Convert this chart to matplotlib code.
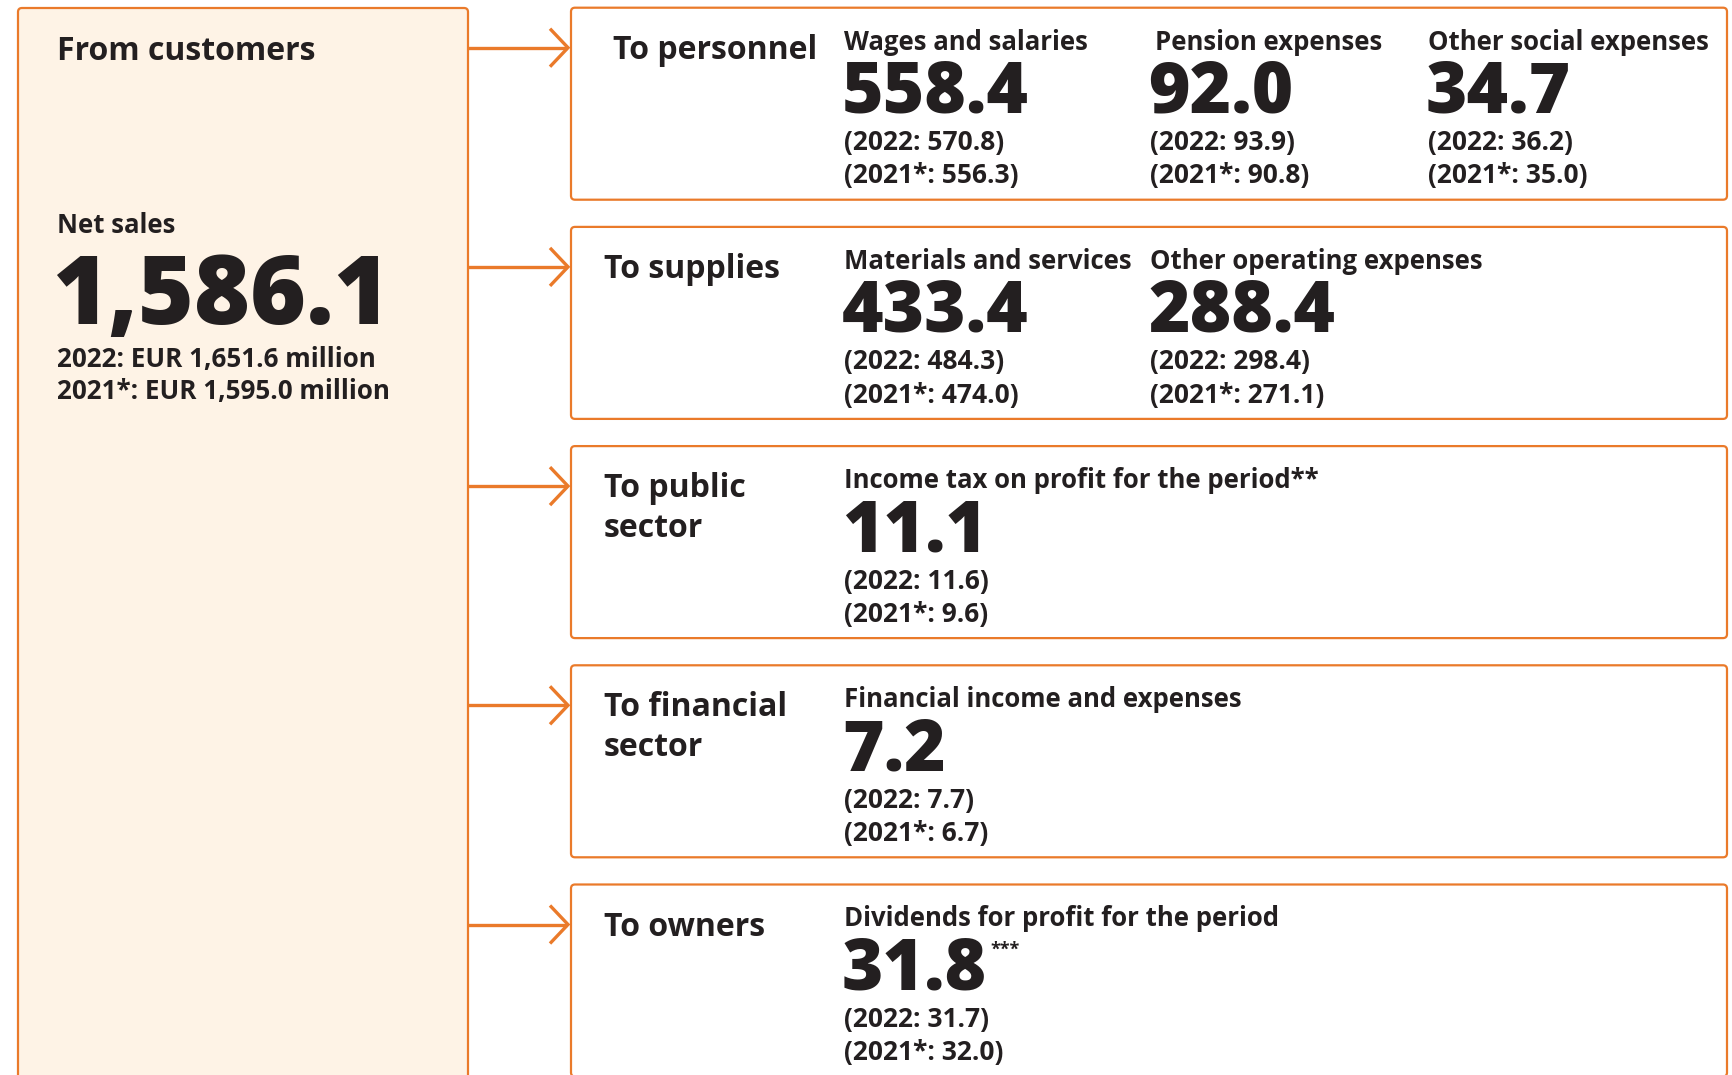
import matplotlib
matplotlib.use("Agg")
import matplotlib.pyplot as plt
from matplotlib.patches import FancyBboxPatch

# ---------------- data ----------------
source_title = "From customers"
net_sales_label = "Net sales"
net_sales = 1586.1
net_sales_2022 = 1651.6
net_sales_2021 = 1595.0

groups = ["To personnel", "To supplies", "To public\nsector", "To financial\nsector", "To owners"]
item_labels = [
    ["Wages and salaries", "Pension expenses", "Other social expenses"],
    ["Materials and services", "Other operating expenses"],
    ["Income tax on profit for the period**"],
    ["Financial income and expenses"],
    ["Dividends for profit for the period"],
]
values_2023 = [[558.4, 92.0, 34.7], [433.4, 288.4], [11.1], [7.2], [31.8]]
values_2022 = [[570.8, 93.9, 36.2], [484.3, 298.4], [11.6], [7.7], [31.7]]
values_2021 = [[556.3, 90.8, 35.0], [474.0, 271.1], [9.6], [6.7], [32.0]]
value_notes = [["", "", ""], ["", ""], [""], [""], ["***"]]

# ---------------- style ----------------
ORANGE = "#EA7A2A"
CREAM = "#FEF3E6"
DARK = "#231F20"
FONT = "Open Sans"

W, H = 1732, 1075
fig = plt.figure(figsize=(W / 100, H / 100), dpi=100)
ax = fig.add_axes([0, 0, 1, 1])
ax.set_xlim(0, W)
ax.set_ylim(H, 0)
ax.axis("off")

# left box
left = FancyBboxPatch((18, 8), 450, 1200, boxstyle="round,pad=0,rounding_size=4",
                      fc=CREAM, ec=ORANGE, lw=1.6)
ax.add_patch(left)
ax.text(57, 60, source_title, fontsize=23, fontweight="bold", family=FONT, color=DARK)
ax.text(57, 233, net_sales_label, fontsize=18.5, fontweight="bold", family=FONT, color=DARK)
ax.text(52, 324, f"{net_sales:,.1f}", fontsize=69, fontweight="heavy", family=FONT, color=DARK)
ax.text(57, 367, f"2022: EUR {net_sales_2022:,.1f} million", fontsize=18.7, fontweight="bold",
        family=FONT, color=DARK)
ax.text(57, 399, f"2021*: EUR {net_sales_2021:,.1f} million", fontsize=18.7, fontweight="bold",
        family=FONT, color=DARK)

box_x0, box_x1 = 571, 1727
box_h = 192
step = 219.2
col_x = [[844, 1155, 1428], [844, 1150], [844], [844], [844]]
val_x = [[842, 1148, 1426], [842, 1148], [842], [842], [842]]
label_x = [613, 604, 604, 604, 604]

fig.canvas.draw()
renderer = fig.canvas.get_renderer()

for i, g in enumerate(groups):
    top = 7.7 + step * i
    b = FancyBboxPatch((box_x0, top), box_x1 - box_x0, box_h,
                       boxstyle="round,pad=0,rounding_size=4",
                       fc="white", ec=ORANGE, lw=1.6)
    ax.add_patch(b)
    # arrow
    ay = top + 40
    ax.plot([468, 567], [ay, ay], color=ORANGE, lw=2.4, solid_capstyle="butt")
    ax.plot([550, 568, 550], [ay - 19, ay, ay + 19], color=ORANGE, lw=2.4,
            solid_joinstyle="miter", solid_capstyle="butt")
    # group label
    for k, line in enumerate(g.split("\n")):
        ax.text(label_x[i], top + 51 + 39.5 * k, line, fontsize=23, fontweight="bold",
                family=FONT, color=DARK)
    for j, lab in enumerate(item_labels[i]):
        ax.text(col_x[i][j], top + 42, lab, fontsize=18.5, fontweight="bold",
                family=FONT, color=DARK)
        t = ax.text(val_x[i][j], top + 105, f"{values_2023[i][j]:.1f}", fontsize=51,
                    fontweight="heavy", family=FONT, color=DARK)
        if value_notes[i][j]:
            bb = t.get_window_extent(renderer=renderer)
            xr = ax.transData.inverted().transform((bb.x1, bb.y1))
            ax.text(xr[0] + 3, top + 70, value_notes[i][j], fontsize=13, fontweight="bold",
                    family=FONT, color=DARK)
        ax.text(val_x[i][j] + 2, top + 142.5, f"(2022: {values_2022[i][j]:.1f})", fontsize=19,
                fontweight="bold", family=FONT, color=DARK)
        ax.text(val_x[i][j] + 2, top + 175.7, f"(2021*: {values_2021[i][j]:.1f})", fontsize=19,
                fontweight="bold", family=FONT, color=DARK)

fig.savefig("out.png", dpi=100, facecolor="white")
